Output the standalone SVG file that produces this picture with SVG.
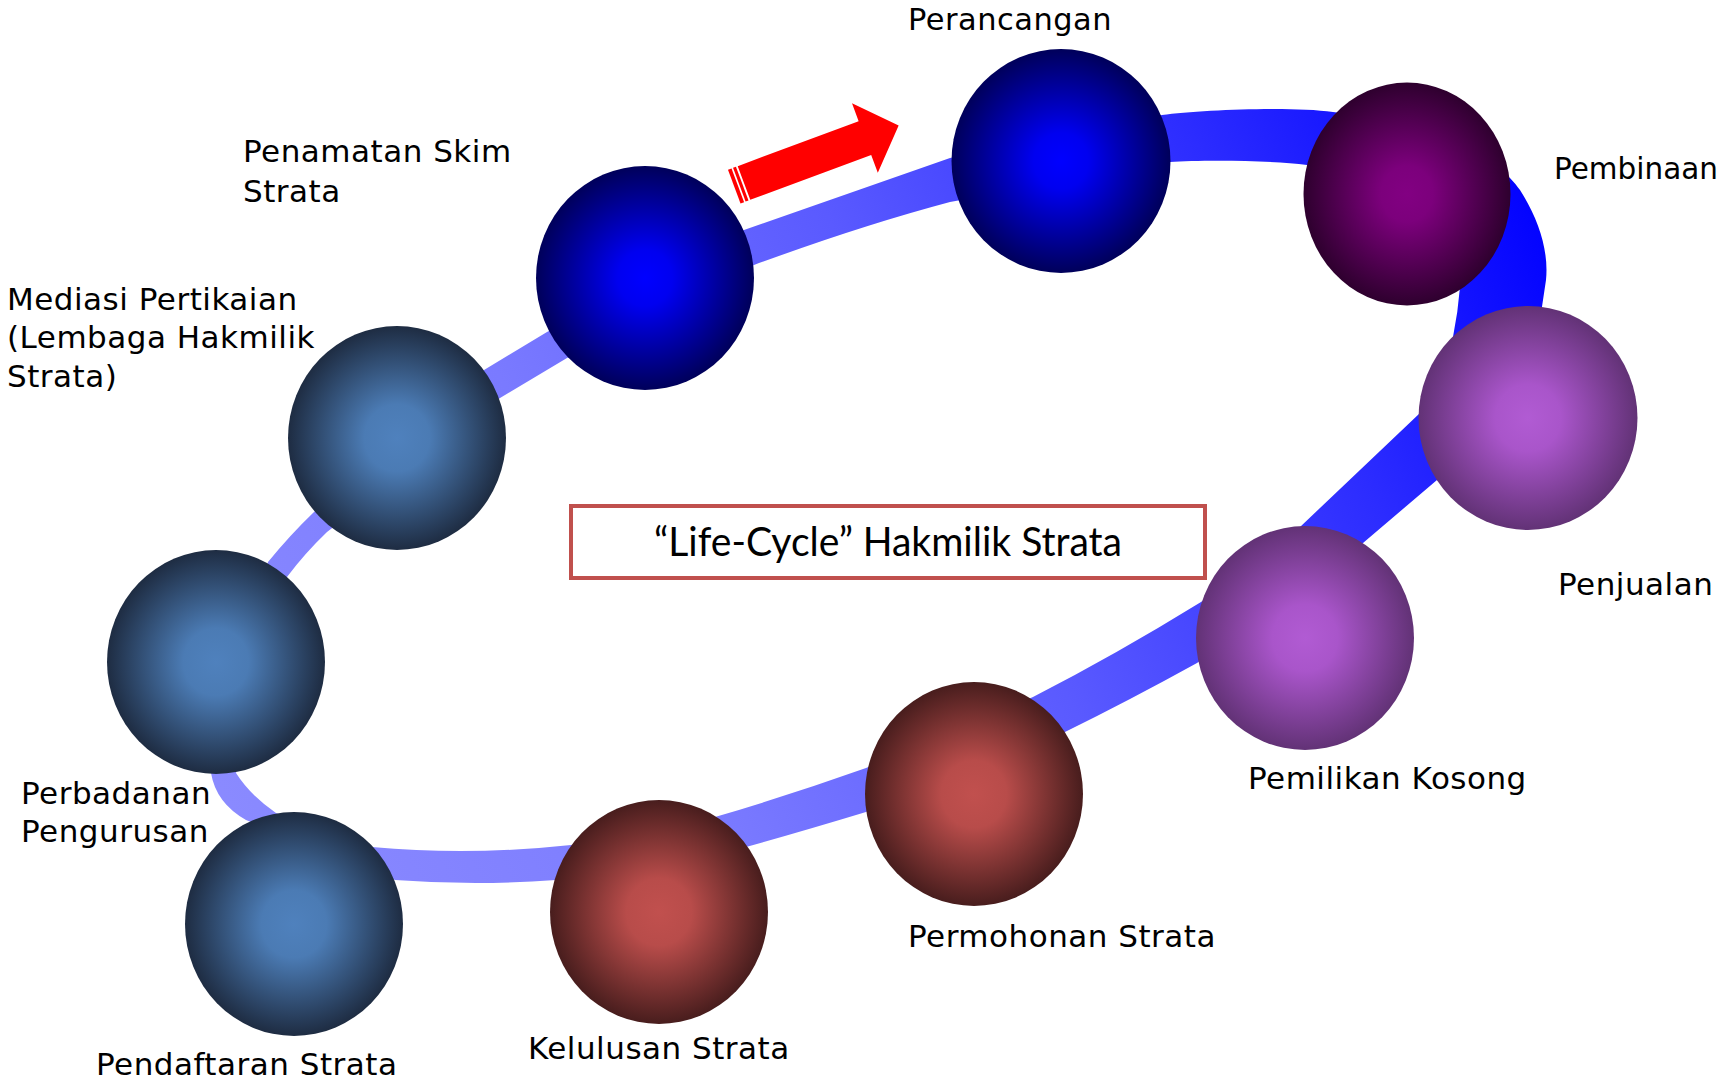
<svg xmlns="http://www.w3.org/2000/svg" width="1731" height="1080" viewBox="0 0 1731 1080">
<defs>
<style>
.lbl{font-family:"DejaVu Sans",Verdana,sans-serif;font-size:31px;fill:#000;letter-spacing:0.5px}
.title{font-family:Lato,"Open Sans",sans-serif;font-size:41px;fill:#000}
.box{fill:#fff;stroke:#C0504D;stroke-width:4}
</style>
<linearGradient id="ringGrad" gradientUnits="userSpaceOnUse" x1="250" y1="850" x2="1550" y2="200">
<stop offset="0" stop-color="#8A8AFF"/>
<stop offset="0.3" stop-color="#7A7AFF"/>
<stop offset="0.55" stop-color="#5A5AFF"/>
<stop offset="0.8" stop-color="#2C2CFF"/>
<stop offset="1" stop-color="#0000FF"/>
</linearGradient>
<radialGradient id="gNavy" cx="0.5" cy="0.5" r="0.5">
<stop offset="0" stop-color="#0000FF"/>
<stop offset="0.25" stop-color="#0000F0"/>
<stop offset="1" stop-color="#00005A"/>
</radialGradient>
<radialGradient id="gPlum" cx="0.5" cy="0.5" r="0.5">
<stop offset="0" stop-color="#820082"/>
<stop offset="0.25" stop-color="#7C007C"/>
<stop offset="1" stop-color="#2E002E"/>
</radialGradient>
<radialGradient id="gViolet" cx="0.5" cy="0.5" r="0.5">
<stop offset="0" stop-color="#B15BD3"/>
<stop offset="0.3" stop-color="#A955CA"/>
<stop offset="1" stop-color="#623276"/>
</radialGradient>
<radialGradient id="gRed" cx="0.5" cy="0.5" r="0.5">
<stop offset="0" stop-color="#C1504E"/>
<stop offset="0.3" stop-color="#B84C4A"/>
<stop offset="1" stop-color="#481D1D"/>
</radialGradient>
<radialGradient id="gSteel" cx="0.5" cy="0.5" r="0.5">
<stop offset="0" stop-color="#4F81BD"/>
<stop offset="0.3" stop-color="#4B7BB4"/>
<stop offset="1" stop-color="#1E2C42"/>
</radialGradient>
</defs>
<rect width="1731" height="1080" fill="#fff"/>

<g id="connectors">
<path id="ring" fill="url(#ringGrad)" fill-rule="evenodd" d="M 484,370 L 547,332 L 744,230 Q 850,193 950,158 L 1162,115 C 1200,110 1290,106 1333,112 C 1440,125 1500,160 1520,190 C 1538,218 1549,250 1546,280 L 1540,320 L 1437,480 L 1363,543 L 1197,663 Q 1130,700 1065,732 L 866,812 Q 800,832 746,847 L 556,880 Q 476,886 395,880 L 246,820 Q 216,803 211,773 L 268,562 Q 290,535 314,512 Z M 500,398 L 567,358 L 754,265 Q 860,226 950,202 L 1170,162 C 1200,160 1270,160 1307,165 L 1460,287 Q 1458,312 1453,337 L 1420,413 L 1300,527 L 1201,602 Q 1115,655 1033,697 L 866,768 Q 790,795 715,817 L 571,845 Q 470,856 372,847 L 276,813 Q 250,795 236,773 L 287,577 Q 305,553 327,532 Z"/>
<g id="direction-arrow" transform="translate(744,183) rotate(-20.4)" fill="#FF0000">
<polygon points="0,-18 129,-18 129,-37 165,0 129,37 129,18 0,18"/>
<rect x="-5" y="-18" width="3.1" height="36"/>
<rect x="-10.4" y="-18" width="3.8" height="36"/>
</g>
</g>

<g id="node-perancangan">
<ellipse cx="1061" cy="161" rx="109.5" ry="112" fill="url(#gNavy)"/>
<text class="lbl" x="908" y="30" textLength="204" lengthAdjust="spacingAndGlyphs">Perancangan</text>
</g>
<g id="node-pembinaan">
<ellipse cx="1407" cy="194" rx="103.5" ry="111.5" fill="url(#gPlum)"/>
<text class="lbl" x="1554" y="179" style="letter-spacing:0" textLength="164" lengthAdjust="spacingAndGlyphs">Pembinaan</text>
</g>
<g id="node-penjualan">
<ellipse cx="1528" cy="418" rx="109.5" ry="112" fill="url(#gViolet)"/>
<text class="lbl" x="1558" y="595">Penjualan</text>
</g>
<g id="node-pemilikan-kosong">
<ellipse cx="1305" cy="638" rx="109" ry="112" fill="url(#gViolet)"/>
<text class="lbl" x="1248" y="789">Pemilikan Kosong</text>
</g>
<g id="node-permohonan-strata">
<ellipse cx="974" cy="794" rx="109" ry="112" fill="url(#gRed)"/>
<text class="lbl" x="908" y="947">Permohonan Strata</text>
</g>
<g id="node-kelulusan-strata">
<ellipse cx="659" cy="912" rx="109" ry="112" fill="url(#gRed)"/>
<text class="lbl" x="528" y="1059">Kelulusan Strata</text>
</g>
<g id="node-pendaftaran-strata">
<ellipse cx="294" cy="924" rx="109" ry="112" fill="url(#gSteel)"/>
<text class="lbl" x="96" y="1075">Pendaftaran Strata</text>
</g>
<g id="node-perbadanan-pengurusan">
<ellipse cx="216" cy="662" rx="109" ry="112" fill="url(#gSteel)"/>
<text class="lbl" x="21" y="804">Perbadanan</text>
<text class="lbl" x="21" y="842">Pengurusan</text>
</g>
<g id="node-mediasi-pertikaian">
<ellipse cx="397" cy="438" rx="109" ry="112" fill="url(#gSteel)"/>
<text class="lbl" x="7" y="310">Mediasi Pertikaian</text>
<text class="lbl" x="7" y="348">(Lembaga Hakmilik</text>
<text class="lbl" x="7" y="387">Strata)</text>
</g>
<g id="node-penamatan-skim-strata">
<ellipse cx="645" cy="278" rx="109" ry="112" fill="url(#gNavy)"/>
<text class="lbl" x="243" y="162">Penamatan Skim</text>
<text class="lbl" x="243" y="202">Strata</text>
</g>

<g id="title">
<rect class="box" x="571" y="506" width="634" height="72"/>
<text class="title" x="888" y="556" text-anchor="middle" textLength="468" lengthAdjust="spacingAndGlyphs">“Life-Cycle” Hakmilik Strata</text>
</g>
</svg>
